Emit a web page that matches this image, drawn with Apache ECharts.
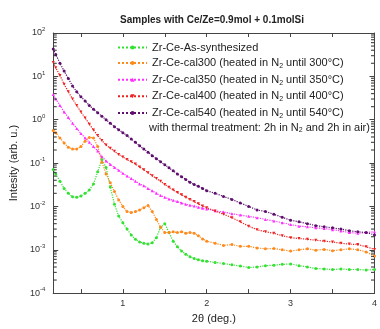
<!DOCTYPE html>
<html><head><meta charset="utf-8">
<script src="https://cdn.jsdelivr.net/npm/echarts@6/dist/echarts.min.js"></script>
<style>html,body{margin:0;padding:0;background:#fff}#c{width:380px;height:329px}</style>
</head><body><div id="c"></div>
<script>
// 2θ (deg.)
const twoTheta = [0.17,0.2,0.25,0.3,0.35,0.4,0.45,0.5,0.55,0.6,0.65,0.7,0.75,0.8,0.85,0.9,0.95,1.0,
  1.05,1.1,1.15,1.2,1.25,1.3,1.35,1.4,1.45,1.5,1.55,1.6,1.65,1.7,1.75,1.8,1.85,1.9,1.95,2.0,
  2.1,2.2,2.3,2.4,2.5,2.6,2.7,2.8,2.9,3.0,3.1,3.2,3.3,3.4,3.5,3.6,3.7,3.8,3.9,4.0];
const asSynth = [7.1e-2,5.6e-2,3.8e-2,2.6e-2,2.0e-2,1.66e-2,1.62e-2,1.74e-2,2.0e-2,2.4e-2,3.3e-2,6.3e-2,0.12,7.9e-2,2.8e-2,1.12e-2,6.0e-3,4.2e-3,
  3.0e-3,2.2e-3,1.74e-3,1.51e-3,1.41e-3,1.35e-3,1.45e-3,1.9e-3,3.3e-3,4.0e-3,2.5e-3,1.58e-3,1.17e-3,9.3e-4,7.9e-4,6.9e-4,6.3e-4,5.9e-4,5.6e-4,5.4e-4,
  5.1e-4,4.8e-4,4.5e-4,4.2e-4,3.9e-4,4.0e-4,4.3e-4,4.4e-4,4.6e-4,4.7e-4,4.3e-4,4.0e-4,3.7e-4,3.6e-4,3.5e-4,3.6e-4,3.5e-4,3.5e-4,3.4e-4,3.5e-4];
const cal300 = [0.56,0.50,0.38,0.29,0.23,0.21,0.21,0.24,0.32,0.39,0.38,0.24,0.105,5.6e-2,3.5e-2,2.2e-2,1.41e-2,1.0e-2,
  7.6e-3,7.2e-3,7.6e-3,8.3e-3,9.3e-3,1.05e-2,7.6e-3,5.0e-3,3.3e-3,2.5e-3,2.5e-3,2.6e-3,2.5e-3,2.6e-3,2.4e-3,2.5e-3,2.4e-3,2.1e-3,1.78e-3,1.58e-3,
  1.41e-3,1.26e-3,1.32e-3,1.2e-3,1.2e-3,1.1e-3,1.05e-3,1.07e-3,1.0e-3,9.3e-4,1.0e-3,1.05e-3,9.8e-4,1.02e-3,9.5e-4,1.0e-3,1.05e-3,1.0e-3,8.9e-4,7.2e-4];
const cal350 = [3.8,3.0,2.14,1.51,1.12,0.83,0.63,0.48,0.38,0.30,0.24,0.19,0.141,0.112,9.3e-2,7.9e-2,6.8e-2,5.8e-2,
  5.0e-2,4.4e-2,3.8e-2,3.3e-2,3.0e-2,2.6e-2,2.3e-2,2.0e-2,1.78e-2,1.62e-2,1.48e-2,1.38e-2,1.29e-2,1.2e-2,1.12e-2,1.07e-2,1.02e-2,9.5e-3,9.1e-3,8.7e-3,
  7.9e-3,7.4e-3,6.8e-3,6.3e-3,5.9e-3,5.5e-3,5.0e-3,4.6e-3,4.2e-3,3.8e-3,3.5e-3,3.4e-3,3.2e-3,3.1e-3,2.9e-3,2.7e-3,2.5e-3,2.4e-3,2.5e-3,2.6e-3];
const cal400 = [21,15.8,10.5,6.6,4.4,3.0,2.14,1.51,1.1,0.79,0.58,0.43,0.33,0.26,0.22,0.186,0.158,0.138,
  0.12,0.107,0.095,8.1e-2,7.0e-2,6.0e-2,5.1e-2,4.4e-2,3.8e-2,3.2e-2,2.75e-2,2.4e-2,2.1e-2,1.86e-2,1.62e-2,1.45e-2,1.29e-2,1.15e-2,1.02e-2,9.3e-3,
  7.8e-3,6.6e-3,5.5e-3,4.4e-3,3.5e-3,2.9e-3,2.6e-3,2.4e-3,2.1e-3,1.9e-3,1.82e-3,1.74e-3,1.66e-3,1.58e-3,1.51e-3,1.41e-3,1.35e-3,1.32e-3,1.17e-3,1.02e-3];
const cal540 = [43,32,20,13.2,8.9,6.0,4.4,3.4,2.7,2.14,1.74,1.45,1.2,1.0,0.83,0.69,0.59,0.50,
  0.43,0.36,0.30,0.25,0.21,0.178,0.148,0.126,0.107,9.1e-2,7.8e-2,6.6e-2,5.6e-2,4.8e-2,4.2e-2,3.6e-2,3.2e-2,2.9e-2,2.6e-2,2.3e-2,
  2.0e-2,1.7e-2,1.45e-2,1.2e-2,1.0e-2,8.3e-3,7.6e-3,6.6e-3,5.6e-3,4.8e-3,4.4e-3,4.0e-3,3.6e-3,3.4e-3,3.2e-3,3.0e-3,2.75e-3,2.6e-3,2.5e-3,2.2e-3];
const seriesNames = [
  'Zr-Ce-As-synthesized',
  'Zr-Ce-cal300 (heated in N{sub|2} until 300°C)',
  'Zr-Ce-cal350 (heated in N{sub|2} until 350°C)',
  'Zr-Ce-cal400 (heated in N{sub|2} until 400°C)',
  'Zr-Ce-cal540 (heated in N{sub|2} until 540°C)'
];
const seriesData = [asSynth, cal300, cal350, cal400, cal540];
const colors = ['#33e133','#ff8a1c','#ff2cff','#ee2020','#5e0f6e'];
const symbols = ['circle','circle','triangle','path://M0,0L10,0L5,10Z','circle'];
const minorTickValues = [];
[1e-4,1e-3,1e-2,1e-1,1,10].forEach(d => { for (let m = 2; m <= 9; m++) minorTickValues.push(+(m*d).toPrecision(2)); });
const X_MIN = 0.17, X_MAX = 4;

const chart = echarts.init(document.getElementById('c'), null, {renderer:'canvas'});
const axisColor = '#444';
const lineSeries = seriesNames.map((n,i) => ({
  name: n, type: 'line', data: twoTheta.map((x,j) => [x, seriesData[i][j]]),
  symbol: symbols[i], symbolSize: 3, showSymbol: true,
  lineStyle: {width: 1.2, color: colors[i], type: 'dotted'}, itemStyle: {color: colors[i]},
  z: 3 + i, silent: true, animation: false
}));
const minorLeft = {
  type: 'scatter', silent: true, animation: false, clip: false, symbol: 'rect', symbolSize: [3, 1.2], symbolOffset: [2, 0],
  itemStyle: {color: '#222'}, z: 10,
  data: minorTickValues.map(v => [X_MIN, v])
};
const minorRight = {
  type: 'scatter', silent: true, animation: false, clip: false, symbol: 'rect', symbolSize: [3, 1.2], symbolOffset: [-2, 0],
  itemStyle: {color: '#222'}, z: 10,
  data: minorTickValues.map(v => [X_MAX, v])
};
chart.setOption({
  animation: false,
  title: {text: 'Samples with Ce/Ze=0.9mol + 0.1molSi', left: 207, top: 10, textAlign: 'center',
    textStyle: {fontFamily: 'Liberation Sans', fontSize: 10, fontWeight: 'bold', color: '#222'}},
  grid: {left: 47, right: 3, top: 33, bottom: 31},
  legend: {
    data: seriesNames, orient: 'vertical', left: 112, top: 37, itemWidth: 29, itemHeight: 5, itemGap: 4.6,
    selectedMode: false,
    textStyle: {fontFamily: 'Liberation Sans', fontSize: 11, color: '#222',
      rich: {sub: {fontSize: 7, verticalAlign: 'bottom', padding: [6,0,0,0], color:'#222', fontFamily:'Liberation Sans'}}},
    formatter: n => n
  },
  graphic: [{type: 'text', left: 149, top: 122,
    style: {text: 'with thermal treatment: 2h in N{sub|2} and 2h in air)', fontFamily: 'Liberation Sans', fontSize: 11, fill: '#222',
      rich: {sub: {fontSize: 7, padding: [6,0,0,0], fill:'#222', fontFamily:'Liberation Sans'}}}}],
  xAxis: [{
    type: 'value', min: X_MIN, max: X_MAX, splitNumber: 8,
    name: '2θ (deg.)', nameLocation: 'middle', nameGap: 18,
    nameTextStyle: {fontFamily: 'Liberation Sans', fontSize: 11, color: '#222'},
    axisLine: {lineStyle: {color: axisColor}},
    axisTick: {inside: true, length: 4, lineStyle: {color: axisColor}},
    axisLabel: {fontFamily: 'Liberation Sans', fontSize: 9, color: '#333', margin: 6,
      formatter: v => (Math.abs(v - Math.round(v)) < 1e-9 && v > 0.5) ? String(Math.round(v)) : ''},
    splitLine: {show: false}
  }, {
    type: 'value', position: 'top', min: X_MIN, max: X_MAX, splitNumber: 8,
    axisLine: {lineStyle: {color: axisColor}},
    axisTick: {inside: true, length: 4, lineStyle: {color: axisColor}},
    axisLabel: {show: false}, splitLine: {show: false}
  }],
  yAxis: [{
    type: 'log', logBase: 10, min: 1e-4, max: 1e2,
    name: 'Intesity (arb. u.)', nameLocation: 'middle', nameGap: 29,
    nameTextStyle: {fontFamily: 'Liberation Sans', fontSize: 11, color: '#222'},
    axisLine: {lineStyle: {color: axisColor}},
    axisTick: {inside: true, length: 5, lineStyle: {color: axisColor}},
    axisLabel: {fontFamily: 'Liberation Sans', fontSize: 9, color: '#333', margin: 8,
      formatter: v => '10{s|' + Math.round(Math.log10(v)) + '}',
      rich: {s: {fontSize: 6, verticalAlign: 'top', padding: [0,0,7,0], color:'#333', fontFamily:'Liberation Sans'}}},
    splitLine: {show: false}
  }, {
    type: 'log', logBase: 10, min: 1e-4, max: 1e2, position: 'right',
    axisLine: {lineStyle: {color: axisColor}},
    axisTick: {inside: true, length: 5, lineStyle: {color: axisColor}},
    axisLabel: {show: false}, splitLine: {show: false}
  }],
  series: [minorLeft, minorRight].concat(lineSeries)
});
</script></body></html>
